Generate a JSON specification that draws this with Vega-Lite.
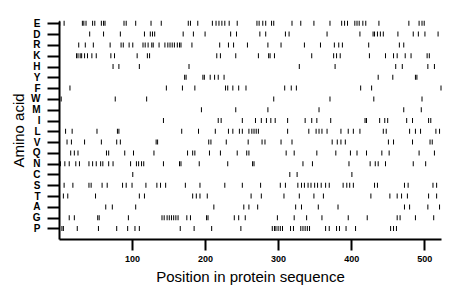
{
  "$schema": "https://vega.github.io/schema/vega-lite/v6.json",
  "autosize": "none",
  "padding": {"left": 59, "top": 21, "right": 19, "bottom": 60},
  "width": 382,
  "height": 218,
  "background": "white",
  "config": {"view": {"stroke": null}, "font": "Liberation Sans"},
  "datasets": {
    "ticks": [
      {"aa":"E","pos":1},{"aa":"E","pos":7},{"aa":"E","pos":32},{"aa":"E","pos":34},{"aa":"E","pos":37},{"aa":"E","pos":46},{"aa":"E","pos":49},{"aa":"E","pos":58},{"aa":"E","pos":61},{"aa":"E","pos":63},{"aa":"E","pos":89},{"aa":"E","pos":92},{"aa":"E","pos":105},{"aa":"E","pos":126},{"aa":"E","pos":140},{"aa":"E","pos":177},{"aa":"E","pos":180},{"aa":"E","pos":190},{"aa":"E","pos":210},{"aa":"E","pos":215},{"aa":"E","pos":219},{"aa":"E","pos":223},{"aa":"E","pos":227},{"aa":"E","pos":233},{"aa":"E","pos":244},{"aa":"E","pos":271},{"aa":"E","pos":274},{"aa":"E","pos":279},{"aa":"E","pos":283},{"aa":"E","pos":291},{"aa":"E","pos":294},{"aa":"E","pos":319},{"aa":"E","pos":331},{"aa":"E","pos":349},{"aa":"E","pos":371},{"aa":"E","pos":387},{"aa":"E","pos":391},{"aa":"E","pos":395},{"aa":"E","pos":405},{"aa":"E","pos":408},{"aa":"E","pos":411},{"aa":"E","pos":416},{"aa":"E","pos":420},{"aa":"E","pos":438},{"aa":"E","pos":479},{"aa":"E","pos":493},{"aa":"E","pos":497},{"aa":"E","pos":500},
      {"aa":"D","pos":42},{"aa":"D","pos":61},{"aa":"D","pos":84},{"aa":"D","pos":117},{"aa":"D","pos":125},{"aa":"D","pos":128},{"aa":"D","pos":131},{"aa":"D","pos":170},{"aa":"D","pos":184},{"aa":"D","pos":200},{"aa":"D","pos":235},{"aa":"D","pos":243},{"aa":"D","pos":275},{"aa":"D","pos":283},{"aa":"D","pos":310},{"aa":"D","pos":315},{"aa":"D","pos":367},{"aa":"D","pos":412},{"aa":"D","pos":430},{"aa":"D","pos":432},{"aa":"D","pos":436},{"aa":"D","pos":440},{"aa":"D","pos":444},{"aa":"D","pos":464},{"aa":"D","pos":485},{"aa":"D","pos":492},{"aa":"D","pos":501},{"aa":"D","pos":519},
      {"aa":"R","pos":27},{"aa":"R","pos":36},{"aa":"R","pos":47},{"aa":"R","pos":70},{"aa":"R","pos":85},{"aa":"R","pos":88},{"aa":"R","pos":96},{"aa":"R","pos":101},{"aa":"R","pos":115},{"aa":"R","pos":118},{"aa":"R","pos":122},{"aa":"R","pos":127},{"aa":"R","pos":129},{"aa":"R","pos":137},{"aa":"R","pos":145},{"aa":"R","pos":149},{"aa":"R","pos":152},{"aa":"R","pos":155},{"aa":"R","pos":158},{"aa":"R","pos":162},{"aa":"R","pos":165},{"aa":"R","pos":167},{"aa":"R","pos":182},{"aa":"R","pos":220},{"aa":"R","pos":232},{"aa":"R","pos":239},{"aa":"R","pos":258},{"aa":"R","pos":286},{"aa":"R","pos":304},{"aa":"R","pos":336},{"aa":"R","pos":358},{"aa":"R","pos":377},{"aa":"R","pos":383},{"aa":"R","pos":388},{"aa":"R","pos":424},{"aa":"R","pos":466},{"aa":"R","pos":472},
      {"aa":"K","pos":24},{"aa":"K","pos":26},{"aa":"K","pos":29},{"aa":"K","pos":31},{"aa":"K","pos":35},{"aa":"K","pos":39},{"aa":"K","pos":45},{"aa":"K","pos":51},{"aa":"K","pos":71},{"aa":"K","pos":76},{"aa":"K","pos":107},{"aa":"K","pos":121},{"aa":"K","pos":124},{"aa":"K","pos":216},{"aa":"K","pos":221},{"aa":"K","pos":242},{"aa":"K","pos":273},{"aa":"K","pos":287},{"aa":"K","pos":289},{"aa":"K","pos":295},{"aa":"K","pos":346},{"aa":"K","pos":376},{"aa":"K","pos":380},{"aa":"K","pos":385},{"aa":"K","pos":425},{"aa":"K","pos":447},{"aa":"K","pos":458},{"aa":"K","pos":463},{"aa":"K","pos":474},{"aa":"K","pos":482},{"aa":"K","pos":504},{"aa":"K","pos":507},
      {"aa":"H","pos":74},{"aa":"H","pos":82},{"aa":"H","pos":110},{"aa":"H","pos":178},{"aa":"H","pos":329},{"aa":"H","pos":378},{"aa":"H","pos":461},{"aa":"H","pos":470},{"aa":"H","pos":505},{"aa":"H","pos":514},
      {"aa":"Y","pos":172},{"aa":"Y","pos":174},{"aa":"Y","pos":197},{"aa":"Y","pos":199},{"aa":"Y","pos":207},{"aa":"Y","pos":213},{"aa":"Y","pos":218},{"aa":"Y","pos":226},{"aa":"Y","pos":437},{"aa":"Y","pos":457},{"aa":"Y","pos":488},{"aa":"Y","pos":490},
      {"aa":"F","pos":15},{"aa":"F","pos":147},{"aa":"F","pos":169},{"aa":"F","pos":186},{"aa":"F","pos":228},{"aa":"F","pos":231},{"aa":"F","pos":238},{"aa":"F","pos":246},{"aa":"F","pos":256},{"aa":"F","pos":309},{"aa":"F","pos":318},{"aa":"F","pos":325},{"aa":"F","pos":413},{"aa":"F","pos":428},{"aa":"F","pos":523},
      {"aa":"W","pos":3},{"aa":"W","pos":77},{"aa":"W","pos":120},{"aa":"W","pos":294},{"aa":"W","pos":371},{"aa":"W","pos":431},{"aa":"W","pos":497},
      {"aa":"M","pos":195},{"aa":"M","pos":242},{"aa":"M","pos":286},{"aa":"M","pos":356},{"aa":"M","pos":472},{"aa":"M","pos":496},
      {"aa":"I","pos":143},{"aa":"I","pos":218},{"aa":"I","pos":222},{"aa":"I","pos":251},{"aa":"I","pos":269},{"aa":"I","pos":277},{"aa":"I","pos":284},{"aa":"I","pos":290},{"aa":"I","pos":296},{"aa":"I","pos":313},{"aa":"I","pos":337},{"aa":"I","pos":346},{"aa":"I","pos":353},{"aa":"I","pos":372},{"aa":"I","pos":419},{"aa":"I","pos":421},{"aa":"I","pos":439},{"aa":"I","pos":446},{"aa":"I","pos":450},{"aa":"I","pos":476},{"aa":"I","pos":484},{"aa":"I","pos":506},{"aa":"I","pos":509},
      {"aa":"L","pos":9},{"aa":"L","pos":18},{"aa":"L","pos":52},{"aa":"L","pos":80},{"aa":"L","pos":82},{"aa":"L","pos":168},{"aa":"L","pos":191},{"aa":"L","pos":214},{"aa":"L","pos":232},{"aa":"L","pos":238},{"aa":"L","pos":247},{"aa":"L","pos":251},{"aa":"L","pos":260},{"aa":"L","pos":264},{"aa":"L","pos":267},{"aa":"L","pos":270},{"aa":"L","pos":273},{"aa":"L","pos":313},{"aa":"L","pos":342},{"aa":"L","pos":352},{"aa":"L","pos":356},{"aa":"L","pos":360},{"aa":"L","pos":367},{"aa":"L","pos":386},{"aa":"L","pos":396},{"aa":"L","pos":403},{"aa":"L","pos":412},{"aa":"L","pos":444},{"aa":"L","pos":448},{"aa":"L","pos":480},{"aa":"L","pos":488},{"aa":"L","pos":495},{"aa":"L","pos":516},{"aa":"L","pos":521},
      {"aa":"V","pos":11},{"aa":"V","pos":17},{"aa":"V","pos":35},{"aa":"V","pos":58},{"aa":"V","pos":79},{"aa":"V","pos":84},{"aa":"V","pos":133},{"aa":"V","pos":135},{"aa":"V","pos":205},{"aa":"V","pos":208},{"aa":"V","pos":229},{"aa":"V","pos":259},{"aa":"V","pos":278},{"aa":"V","pos":282},{"aa":"V","pos":304},{"aa":"V","pos":319},{"aa":"V","pos":374},{"aa":"V","pos":381},{"aa":"V","pos":386},{"aa":"V","pos":392},{"aa":"V","pos":451},{"aa":"V","pos":458},{"aa":"V","pos":484},{"aa":"V","pos":508},{"aa":"V","pos":511},
      {"aa":"Q","pos":16},{"aa":"Q","pos":21},{"aa":"Q","pos":26},{"aa":"Q","pos":65},{"aa":"Q","pos":68},{"aa":"Q","pos":90},{"aa":"Q","pos":102},{"aa":"Q","pos":130},{"aa":"Q","pos":176},{"aa":"Q","pos":183},{"aa":"Q","pos":186},{"aa":"Q","pos":206},{"aa":"Q","pos":221},{"aa":"Q","pos":244},{"aa":"Q","pos":257},{"aa":"Q","pos":260},{"aa":"Q","pos":311},{"aa":"Q","pos":322},{"aa":"Q","pos":353},{"aa":"Q","pos":379},{"aa":"Q","pos":399},{"aa":"Q","pos":408},{"aa":"Q","pos":421},{"aa":"Q","pos":442},{"aa":"Q","pos":452},{"aa":"Q","pos":493},{"aa":"Q","pos":514},
      {"aa":"N","pos":2},{"aa":"N","pos":8},{"aa":"N","pos":14},{"aa":"N","pos":23},{"aa":"N","pos":28},{"aa":"N","pos":41},{"aa":"N","pos":46},{"aa":"N","pos":51},{"aa":"N","pos":57},{"aa":"N","pos":60},{"aa":"N","pos":68},{"aa":"N","pos":74},{"aa":"N","pos":98},{"aa":"N","pos":106},{"aa":"N","pos":109},{"aa":"N","pos":113},{"aa":"N","pos":116},{"aa":"N","pos":143},{"aa":"N","pos":165},{"aa":"N","pos":167},{"aa":"N","pos":192},{"aa":"N","pos":231},{"aa":"N","pos":265},{"aa":"N","pos":267},{"aa":"N","pos":334},{"aa":"N","pos":347},{"aa":"N","pos":397},{"aa":"N","pos":426},{"aa":"N","pos":433},{"aa":"N","pos":437},{"aa":"N","pos":447},{"aa":"N","pos":485},{"aa":"N","pos":502},
      {"aa":"C","pos":101},{"aa":"C","pos":316},{"aa":"C","pos":326},{"aa":"C","pos":401},
      {"aa":"S","pos":7},{"aa":"S","pos":19},{"aa":"S","pos":41},{"aa":"S","pos":44},{"aa":"S","pos":59},{"aa":"S","pos":66},{"aa":"S","pos":87},{"aa":"S","pos":92},{"aa":"S","pos":100},{"aa":"S","pos":119},{"aa":"S","pos":134},{"aa":"S","pos":139},{"aa":"S","pos":146},{"aa":"S","pos":173},{"aa":"S","pos":193},{"aa":"S","pos":227},{"aa":"S","pos":251},{"aa":"S","pos":276},{"aa":"S","pos":303},{"aa":"S","pos":310},{"aa":"S","pos":327},{"aa":"S","pos":332},{"aa":"S","pos":336},{"aa":"S","pos":341},{"aa":"S","pos":345},{"aa":"S","pos":350},{"aa":"S","pos":354},{"aa":"S","pos":359},{"aa":"S","pos":365},{"aa":"S","pos":370},{"aa":"S","pos":389},{"aa":"S","pos":394},{"aa":"S","pos":398},{"aa":"S","pos":403},{"aa":"S","pos":432},{"aa":"S","pos":436},{"aa":"S","pos":473},{"aa":"S","pos":478},{"aa":"S","pos":512},{"aa":"S","pos":517},
      {"aa":"T","pos":6},{"aa":"T","pos":12},{"aa":"T","pos":50},{"aa":"T","pos":110},{"aa":"T","pos":117},{"aa":"T","pos":183},{"aa":"T","pos":188},{"aa":"T","pos":193},{"aa":"T","pos":203},{"aa":"T","pos":263},{"aa":"T","pos":277},{"aa":"T","pos":308},{"aa":"T","pos":329},{"aa":"T","pos":349},{"aa":"T","pos":362},{"aa":"T","pos":427},{"aa":"T","pos":453},{"aa":"T","pos":463},{"aa":"T","pos":469},{"aa":"T","pos":477},{"aa":"T","pos":506},{"aa":"T","pos":517},
      {"aa":"A","pos":64},{"aa":"A","pos":73},{"aa":"A","pos":105},{"aa":"A","pos":212},{"aa":"A","pos":253},{"aa":"A","pos":260},{"aa":"A","pos":272},{"aa":"A","pos":324},{"aa":"A","pos":332},{"aa":"A","pos":355},{"aa":"A","pos":382},{"aa":"A","pos":473},{"aa":"A","pos":480},{"aa":"A","pos":505},{"aa":"A","pos":521},
      {"aa":"G","pos":14},{"aa":"G","pos":21},{"aa":"G","pos":53},{"aa":"G","pos":55},{"aa":"G","pos":95},{"aa":"G","pos":141},{"aa":"G","pos":144},{"aa":"G","pos":148},{"aa":"G","pos":151},{"aa":"G","pos":154},{"aa":"G","pos":157},{"aa":"G","pos":160},{"aa":"G","pos":163},{"aa":"G","pos":175},{"aa":"G","pos":180},{"aa":"G","pos":202},{"aa":"G","pos":204},{"aa":"G","pos":240},{"aa":"G","pos":246},{"aa":"G","pos":255},{"aa":"G","pos":299},{"aa":"G","pos":322},{"aa":"G","pos":339},{"aa":"G","pos":360},{"aa":"G","pos":396},{"aa":"G","pos":422},{"aa":"G","pos":463},{"aa":"G","pos":467},{"aa":"G","pos":488},{"aa":"G","pos":513},
      {"aa":"P","pos":4},{"aa":"P","pos":6},{"aa":"P","pos":25},{"aa":"P","pos":54},{"aa":"P","pos":79},{"aa":"P","pos":94},{"aa":"P","pos":104},{"aa":"P","pos":110},{"aa":"P","pos":166},{"aa":"P","pos":185},{"aa":"P","pos":209},{"aa":"P","pos":249},{"aa":"P","pos":292},{"aa":"P","pos":295},{"aa":"P","pos":297},{"aa":"P","pos":300},{"aa":"P","pos":303},{"aa":"P","pos":306},{"aa":"P","pos":317},{"aa":"P","pos":321},{"aa":"P","pos":331},{"aa":"P","pos":334},{"aa":"P","pos":337},{"aa":"P","pos":340},{"aa":"P","pos":343},{"aa":"P","pos":365},{"aa":"P","pos":370},{"aa":"P","pos":380},{"aa":"P","pos":384},{"aa":"P","pos":393},{"aa":"P","pos":406},{"aa":"P","pos":454},{"aa":"P","pos":458},{"aa":"P","pos":462}
    ]
  },
  "data": {"name": "ticks"},
  "mark": {"type": "tick", "orient": "vertical", "size": 5, "thickness": 1, "color": "#000", "opacity": 1},
  "encoding": {
    "x": {
      "field": "pos", "type": "quantitative",
      "scale": {"domain": [0, 523], "nice": false, "zero": false},
      "axis": {
        "values": [100, 200, 300, 400, 500],
        "grid": false,
        "title": "Position in protein sequence",
        "titleFont": "Liberation Sans", "titleFontSize": 15, "titleFontWeight": "normal", "titleColor": "#000", "titlePadding": 6,
        "labelFont": "Liberation Sans", "labelFontSize": 9, "labelFontWeight": "bold", "labelColor": "#000", "labelPadding": 4,
        "tickSize": 11, "tickWidth": 2, "tickColor": "#000",
        "domainColor": "#000", "domainWidth": 2
      }
    },
    "y": {
      "field": "aa", "type": "nominal",
      "scale": {"type": "point", "domain": ["E","D","R","K","H","Y","F","W","M","I","L","V","Q","N","C","S","T","A","G","P"], "padding": 0.593, "align": 0.18},
      "axis": {
        "grid": false,
        "title": "Amino acid",
        "titleFont": "Liberation Sans", "titleFontSize": 15, "titleFontWeight": "normal", "titleColor": "#000", "titlePadding": 4,
        "labelFont": "Liberation Sans", "labelFontSize": 10, "labelFontWeight": "bold", "labelColor": "#000", "labelPadding": 7,
        "tickSize": 12, "tickWidth": 2, "tickColor": "#000",
        "domainColor": "#000", "domainWidth": 2
      }
    }
  }
}
